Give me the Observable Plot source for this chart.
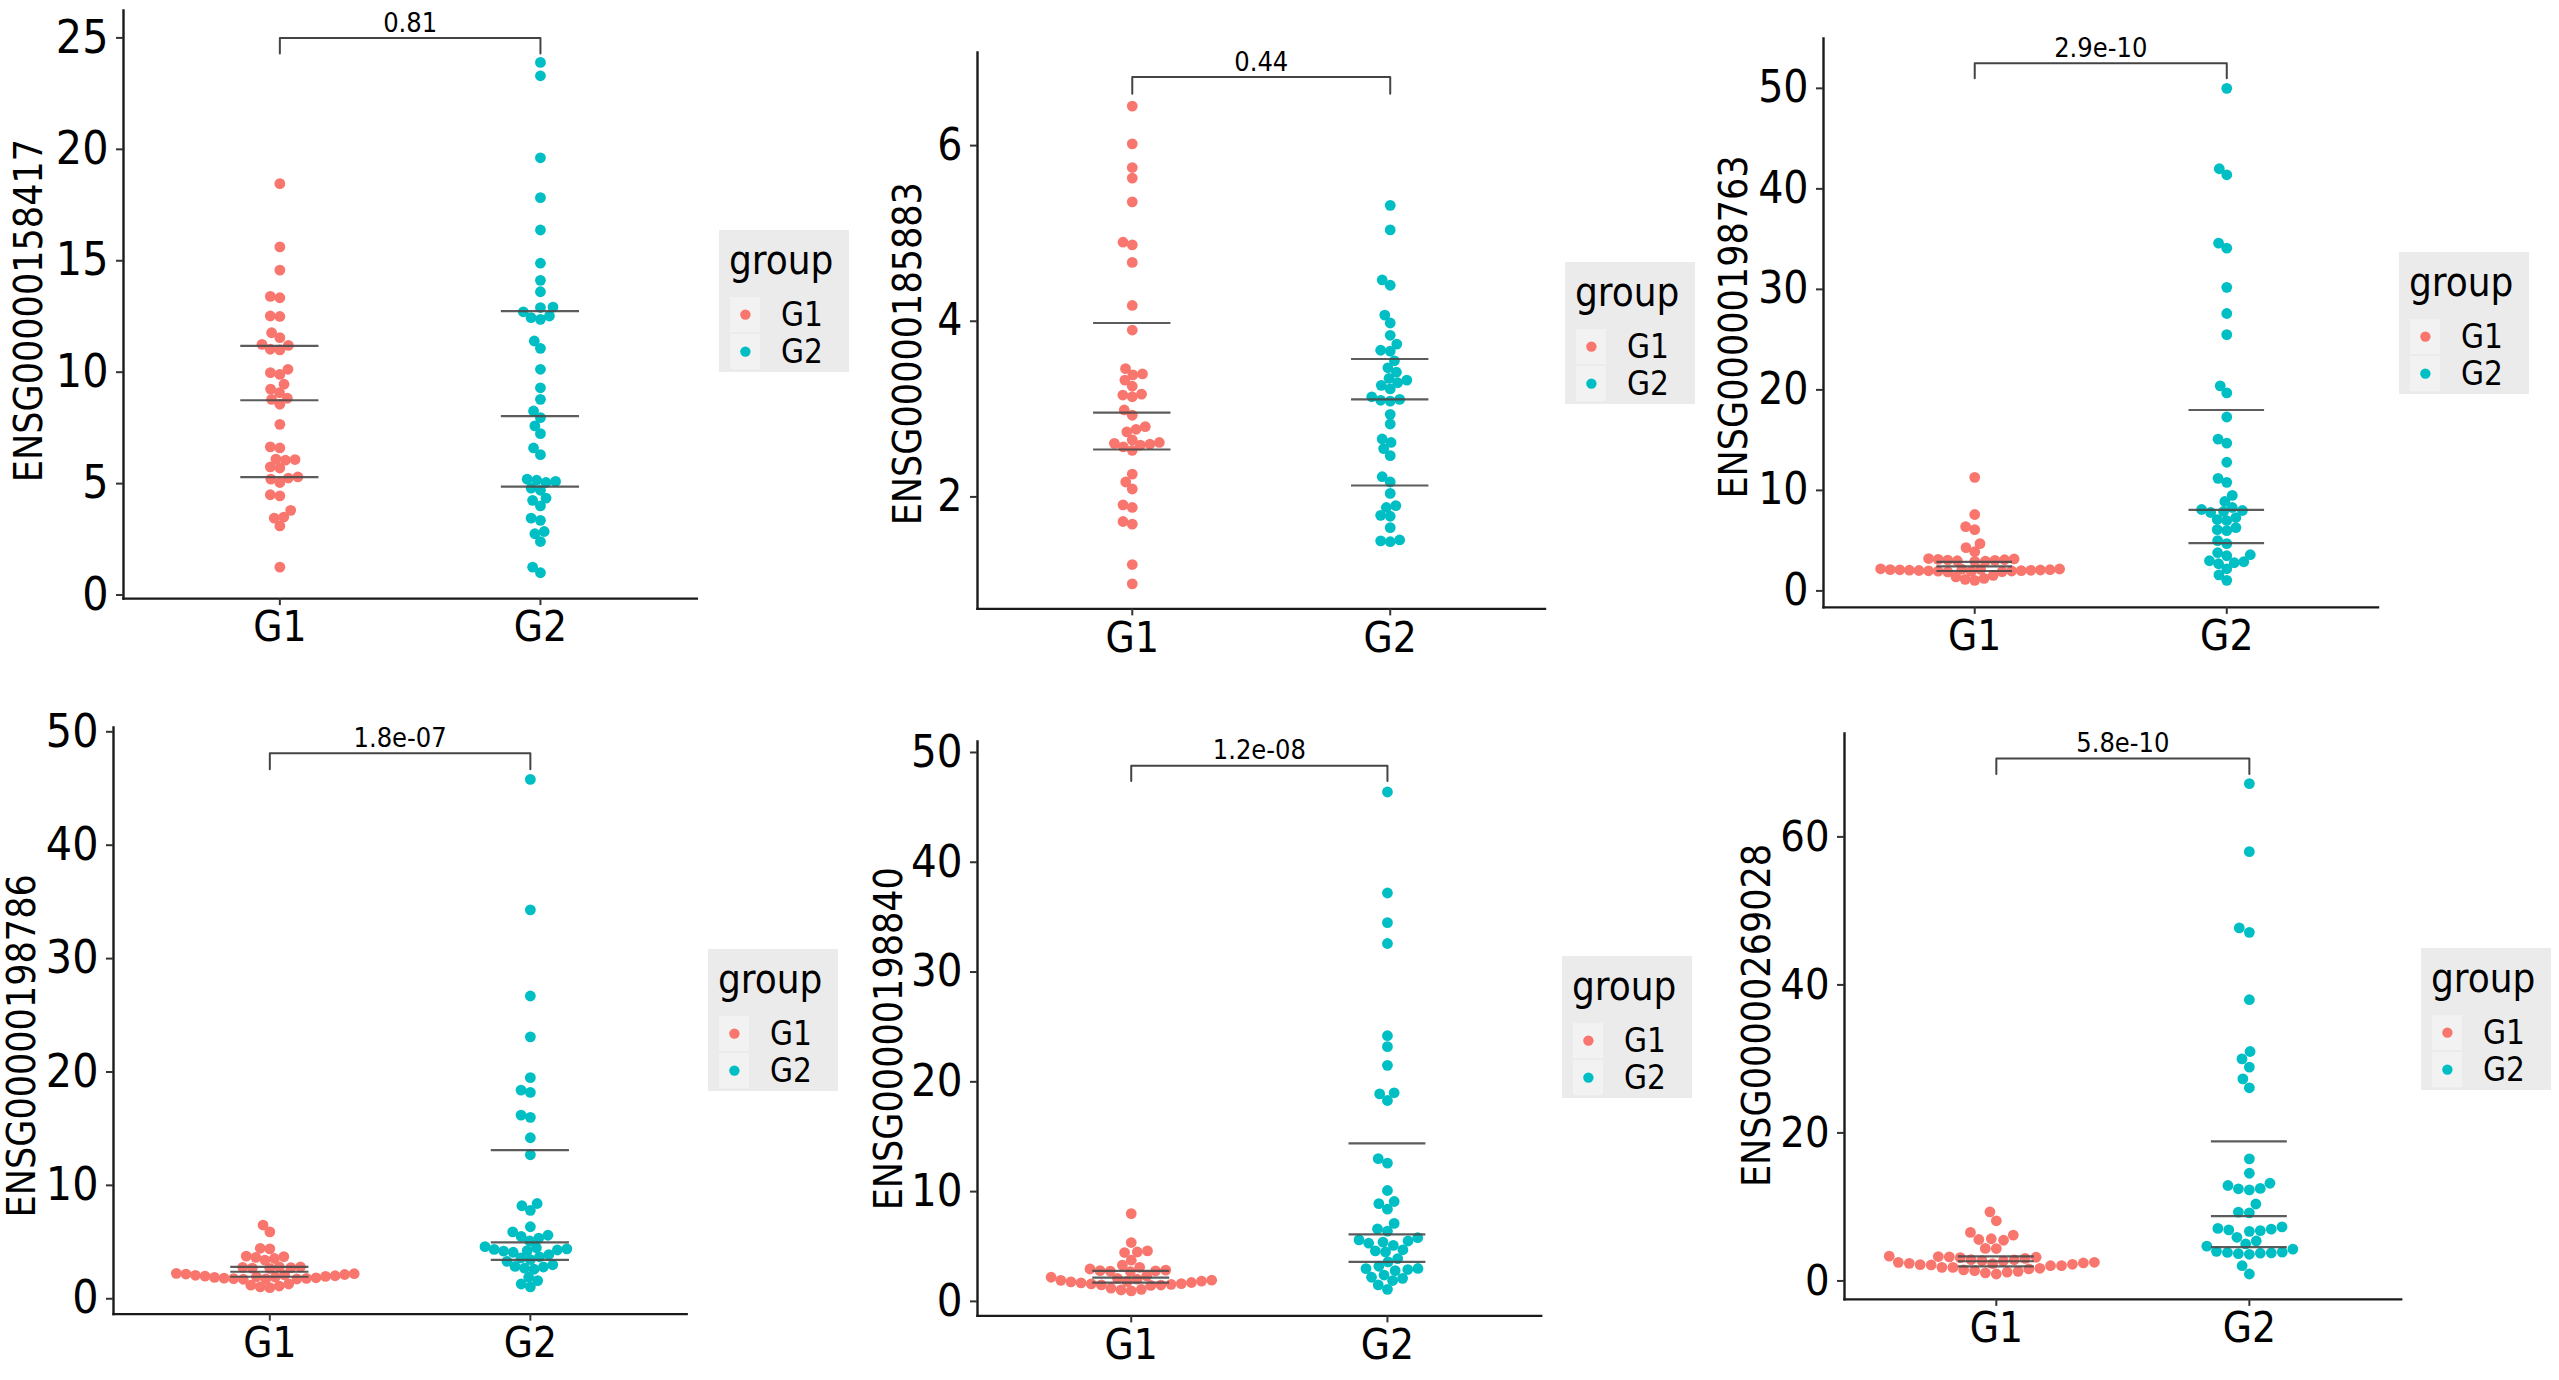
<!DOCTYPE html>
<html>
<head>
<meta charset="utf-8">
<script src="https://cdn.jsdelivr.net/npm/d3@7"></script>
<script src="https://cdn.jsdelivr.net/npm/@observablehq/plot@0.6"></script>
<style>
  html, body { margin: 0; padding: 0; background: #fff; }
  #page { position: relative; width: 2559px; height: 1380px; overflow: hidden; background: #fff;
          font-family: "Liberation Sans Narrow", "DejaVu Sans Condensed", sans-serif; }
  .layer { position: absolute; }
</style>
</head>
<body>
<div id="page"></div>
<script>
// ---------------- data ----------------
const groups = ["G1", "G2"];
const groupColors = ["#F8766D", "#00BFC4"];
const genes = ["ENSG00000158417", "ENSG00000185883", "ENSG00000198763",
               "ENSG00000198786", "ENSG00000198840", "ENSG00000269028"];
const pValues = ["0.81", "0.44", "2.9e-10", "1.8e-07", "1.2e-08", "5.8e-10"];

const p1G1 = [18.46, 15.62, 14.58, 13.4, 13.34, 12.52, 12.5, 11.77, 11.55, 11.25, 11.2, 11.03, 11.0, 10.13, 9.98, 9.9, 9.46, 9.24, 9.08, 8.83, 8.78, 8.56, 7.66, 6.65, 6.6, 6.1, 6.08, 6.05, 5.75, 5.7, 5.3, 5.25, 5.2, 5.05, 4.5, 4.45, 3.8, 3.5, 3.45, 3.1, 1.25];
const p1G2 = [23.9, 23.3, 19.62, 17.83, 16.38, 14.89, 14.12, 13.61, 12.92, 12.9, 12.71, 12.52, 12.45, 12.37, 11.4, 11.07, 10.13, 9.3, 8.78, 8.26, 7.96, 7.59, 7.24, 6.6, 6.3, 5.2, 5.15, 5.1, 5.05, 4.8, 4.7, 4.35, 4.25, 4.0, 3.45, 3.35, 2.85, 2.75, 2.4, 1.25, 1.0];
const p2G1 = [6.45, 6.02, 5.75, 5.63, 5.36, 4.9, 4.87, 4.67, 4.18, 3.9, 3.46, 3.40, 3.39, 3.33, 3.26, 3.17, 3.16, 3.14, 2.99, 2.93, 2.80, 2.77, 2.74, 2.65, 2.62, 2.61, 2.6, 2.59, 2.57, 2.53, 2.26, 2.17, 2.09, 1.91, 1.88, 1.72, 1.69, 1.23, 1.01];
const p2G2 = [5.32, 5.04, 4.47, 4.41, 4.07, 3.98, 3.84, 3.74, 3.67, 3.66, 3.55, 3.47, 3.42, 3.35, 3.33, 3.3, 3.27, 3.23, 3.14, 3.11, 3.10, 3.09, 2.94, 2.83, 2.66, 2.62, 2.55, 2.47, 2.23, 2.17, 2.04, 1.90, 1.88, 1.79, 1.78, 1.65, 1.51, 1.5, 1.49];
const p3G1 = [11.3, 7.6, 6.4, 6.1, 4.7, 4.3, 3.9, 3.22, 3.18, 3.14, 3.1, 3.07, 3.04, 3.0, 2.97, 2.94, 2.2, 2.18, 2.16, 2.14, 2.12, 2.11, 2.1, 2.08, 2.06, 2.05, 2.03, 2.02, 2.0, 1.98, 1.96, 1.94, 1.92, 1.9, 1.55, 1.4, 1.25, 1.15, 1.05];
const p3G2 = [50.0, 42.0, 41.4, 34.6, 34.1, 30.2, 27.6, 25.5, 20.4, 19.7, 17.3, 15.1, 14.7, 12.8, 11.2, 10.8, 9.5, 8.9, 8.3, 8.1, 8.0, 7.9, 7.8, 7.3, 7.1, 7.0, 6.3, 6.1, 6.0, 5.0, 4.7, 3.8, 3.6, 3.5, 3.0, 2.9, 2.8, 2.7, 2.2, 1.6, 1.05];
const p4G1 = [6.5, 5.9, 4.45, 4.4, 3.76, 3.72, 3.65, 3.55, 3.41, 2.82, 2.8, 2.77, 2.74, 2.7, 2.68, 2.24, 2.21, 2.18, 2.14, 2.1, 2.07, 2.03, 2.0, 1.97, 1.94, 1.9, 1.88, 1.85, 1.82, 1.8, 1.78, 1.75, 1.74, 1.72, 1.3, 1.2, 1.12, 1.05, 0.98];
const p4G2 = [45.8, 34.3, 26.7, 23.1, 19.5, 18.4, 18.2, 16.2, 16.0, 14.2, 12.7, 8.4, 8.2, 7.8, 6.35, 5.9, 5.6, 5.5, 5.35, 5.1, 4.6, 4.5, 4.4, 4.35, 4.3, 4.25, 4.2, 4.1, 3.9, 3.7, 3.6, 3.45, 3.3, 3.0, 2.85, 2.8, 2.7, 2.6, 1.9, 1.6, 1.3, 1.05];
const p5G1 = [8.0, 5.36, 4.6, 4.5, 4.45, 3.75, 3.3, 3.1, 2.95, 2.85, 2.8, 2.78, 2.76, 2.72, 2.32, 2.2, 2.1, 2.02, 1.93, 1.92, 1.85, 1.81, 1.78, 1.72, 1.68, 1.62, 1.6, 1.55, 1.5, 1.49, 1.45, 1.2, 1.1, 1.05, 0.96];
const p5G2 = [46.4, 37.2, 34.5, 32.6, 24.2, 23.2, 21.5, 19.0, 18.9, 18.3, 13.0, 12.6, 10.1, 9.1, 8.9, 8.4, 7.1, 6.6, 6.4, 5.8, 5.6, 5.5, 5.4, 5.3, 5.1, 4.7, 4.6, 4.5, 3.9, 3.6, 3.2, 3.0, 2.98, 2.9, 2.8, 2.4, 2.2, 2.1, 1.9, 1.5, 1.1];
const p6G1 = [9.34, 8.13, 6.56, 6.2, 5.7, 5.6, 5.5, 4.4, 4.38, 3.35, 3.3, 3.25, 3.2, 3.15, 3.05, 2.87, 2.86, 2.74, 2.7, 2.52, 2.51, 2.43, 2.38, 2.34, 2.25, 2.2, 2.16, 2.07, 2.06, 1.84, 1.83, 1.71, 1.62, 1.5, 1.4, 1.3, 1.2, 1.1, 0.94];
const p6G2 = [67.2, 58.0, 47.7, 47.1, 38.0, 31.0, 30.0, 28.9, 27.3, 26.1, 16.5, 14.55, 13.2, 12.9, 12.5, 12.45, 12.3, 10.4, 9.3, 9.2, 7.3, 7.1, 7.0, 6.9, 6.8, 6.7, 5.9, 5.4, 5.0, 4.7, 4.3, 4.0, 3.9, 3.85, 3.8, 3.75, 3.7, 3.6, 2.06, 0.94];

// quartile lines (Q1, median, Q3) per group
const quartG1 = [[5.29, 8.74, 11.18], [2.54, 2.96, 3.98], [1.98, 2.45, 2.88], [1.94, 2.38, 2.82], [1.71, 2.17, 2.78], [1.98, 2.66, 3.33]];
const quartG2 = [[4.86, 8.03, 12.74], [2.13, 3.11, 3.57], [4.75, 8.07, 18.0], [3.42, 4.97, 13.1], [3.6, 6.1, 14.4], [4.56, 8.77, 18.85]];

// comparison bracket: [end-tick bottom, bar height]
const brackets = [[24.3, 25.0], [6.59, 6.78], [51.0, 52.5], [46.7, 48.1], [47.4, 48.8], [68.5, 70.6]];

const yDomains = [[-0.16, 26.23], [0.725, 7.06], [-1.64, 54.96], [-1.36, 50.38], [-1.32, 51.0], [-2.49, 73.97]];
const yTicks = [[0, 5, 10, 15, 20, 25], [2, 4, 6], [0, 10, 20, 30, 40, 50], [0, 10, 20, 30, 40, 50], [0, 10, 20, 30, 40, 50], [0, 20, 40, 60]];

const seriesG1 = [p1G1, p2G1, p3G1, p4G1, p5G1, p6G1];
const seriesG2 = [p1G2, p2G2, p3G2, p4G2, p5G2, p6G2];

// ---------------- layout (page pixels) ----------------
const layout = [
  {L: 123.4, R: 696.7, T: 9.5, B: 597.6, labOff: 109.7, labDy: 6, tickSize: 46, pad: -1.2, legend: [718.6, 230]},
  {L: 976.5, R: 1544, T: 52, B: 608.4, labOff: 84, labDy: 23, tickSize: 44, pad: -1.2, legend: [1564.6, 262.4]},
  {L: 1823.3, R: 2377.8, T: 38.2, B: 607.1, labOff: 104, labDy: 4, tickSize: 44, pad: -1.2, legend: [2398.6, 251.5]},
  {L: 112.5, R: 685.7, T: 727.4, B: 1314.1, labOff: 106, labDy: 25, tickSize: 46, pad: -1.2, legend: [707.6, 948.8]},
  {L: 976.5, R: 1540.2, T: 740.6, B: 1315, labOff: 103, labDy: 10, tickSize: 45, pad: -0.6, legend: [1561.9, 956.3]},
  {L: 1843.6, R: 2400.3, T: 733.1, B: 1299, labOff: 102.6, labDy: -1, tickSize: 43, pad: 0.2, legend: [2420.5, 947.5]}
];
const FONT = '"Liberation Sans Narrow", "DejaVu Sans Condensed", sans-serif';
const M = {marginLeft: 130, marginRight: 20, marginTop: 60, marginBottom: 70};

const page = document.getElementById("page");

function place(el, left, top) {
  el.classList.add("layer");
  el.style.left = left + "px";
  el.style.top = top + "px";
  page.appendChild(el);
}

for (let i = 0; i < 6; i++) {
  const lay = layout[i];
  const width = (lay.R - lay.L) + M.marginLeft + M.marginRight;
  const height = (lay.B - lay.T) + M.marginTop + M.marginBottom;
  const left = lay.L - M.marginLeft, top = lay.T - M.marginTop;

  const pts = [
    ...seriesG1[i].map(v => ({group: "G1", value: v})),
    ...seriesG2[i].map(v => ({group: "G2", value: v}))
  ].sort((a, b) => a.value - b.value);

  const quart = [
    ...quartG1[i].map(v => ({group: "G1", value: v})),
    ...quartG2[i].map(v => ({group: "G2", value: v}))
  ];
  const br = brackets[i];
  const bracket = [
    {g: "G1", v: br[0]}, {g: "G1", v: br[1]}, {g: "G2", v: br[1]}, {g: "G2", v: br[0]}
  ];

  // swarm of points (one facet per group, centred on each group)
  const dots = Plot.plot({
    width, height, ...M,
    style: {background: "transparent", overflow: "visible"},
    fx: {domain: groups, paddingInner: 0, paddingOuter: 0.1, round: false, axis: null, label: null},
    y: {domain: yDomains[i], axis: null},
    color: {domain: groups, range: groupColors},
    marks: [
      Plot.dot(pts, Plot.dodgeX({anchor: "middle", padding: lay.pad},
                                {fx: "group", y: "value", r: 5.4, fill: "group", stroke: "none"}))
    ]
  });
  place(dots, left, top);

  // axes, quartile lines, bracket and labels
  const base = Plot.plot({
    width, height, ...M,
    style: {background: "transparent", overflow: "visible", fontFamily: FONT, color: "#000"},
    x: {type: "band", domain: groups, paddingInner: 0.7, paddingOuter: 0.45, round: false},
    y: {domain: yDomains[i]},
    marks: [
      Plot.tickY(quart, {x: "group", y: "value", stroke: "#4a4a4a", strokeWidth: 2.2, strokeOpacity: 0.9}),
      Plot.frame({anchor: "left", stroke: "#1a1a1a", strokeWidth: 2.4}),
      Plot.frame({anchor: "bottom", stroke: "#1a1a1a", strokeWidth: 2.4}),
      Plot.axisY({ticks: yTicks[i], tickFormat: d => String(d), tickSize: 7, tickPadding: 8,
                  fontSize: lay.tickSize, label: null, stroke: "#333", strokeWidth: 2, fill: "#000"}),
      Plot.axisX({tickSize: 7, tickPadding: 6, fontSize: 42, label: null, stroke: "#333", strokeWidth: 2, fill: "#000"}),
      Plot.line(bracket, {x: "g", y: "v", stroke: "#444", strokeWidth: 2}),
      Plot.text([pValues[i]], {y: br[1], text: d => d, dy: -15, fontSize: 27, fill: "#000"}),
      Plot.text([genes[i]], {text: d => d, frameAnchor: "left", rotate: -90, textAnchor: "middle", lineAnchor: "top",
                             dx: -lay.labOff, dy: lay.labDy, fontSize: 39, fill: "#000"})
    ]
  });
  place(base, left, top);

  // legend
  const lg = d3.create("svg").attr("width", 130).attr("height", 142)
    .style("font-family", FONT).node();
  const s = d3.select(lg);
  s.append("rect").attr("width", 130).attr("height", 142).attr("fill", "#ebebeb");
  s.append("text").attr("x", 10).attr("y", 44).attr("font-size", 40).attr("fill", "#000").text("group");
  groups.forEach((g, j) => {
    const cy = 84.6 + j * 37;
    s.append("rect").attr("x", 11).attr("y", cy - 17.5).attr("width", 30).attr("height", 35).attr("fill", "#f2f2f2");
    s.append("circle").attr("cx", 26.4).attr("cy", cy).attr("r", 5.2).attr("fill", groupColors[j]);
    s.append("text").attr("x", 62).attr("y", cy).attr("dy", "0.36em").attr("font-size", 33).attr("fill", "#000").text(g);
  });
  place(lg, lay.legend[0], lay.legend[1]);
}
</script>
</body>
</html>
